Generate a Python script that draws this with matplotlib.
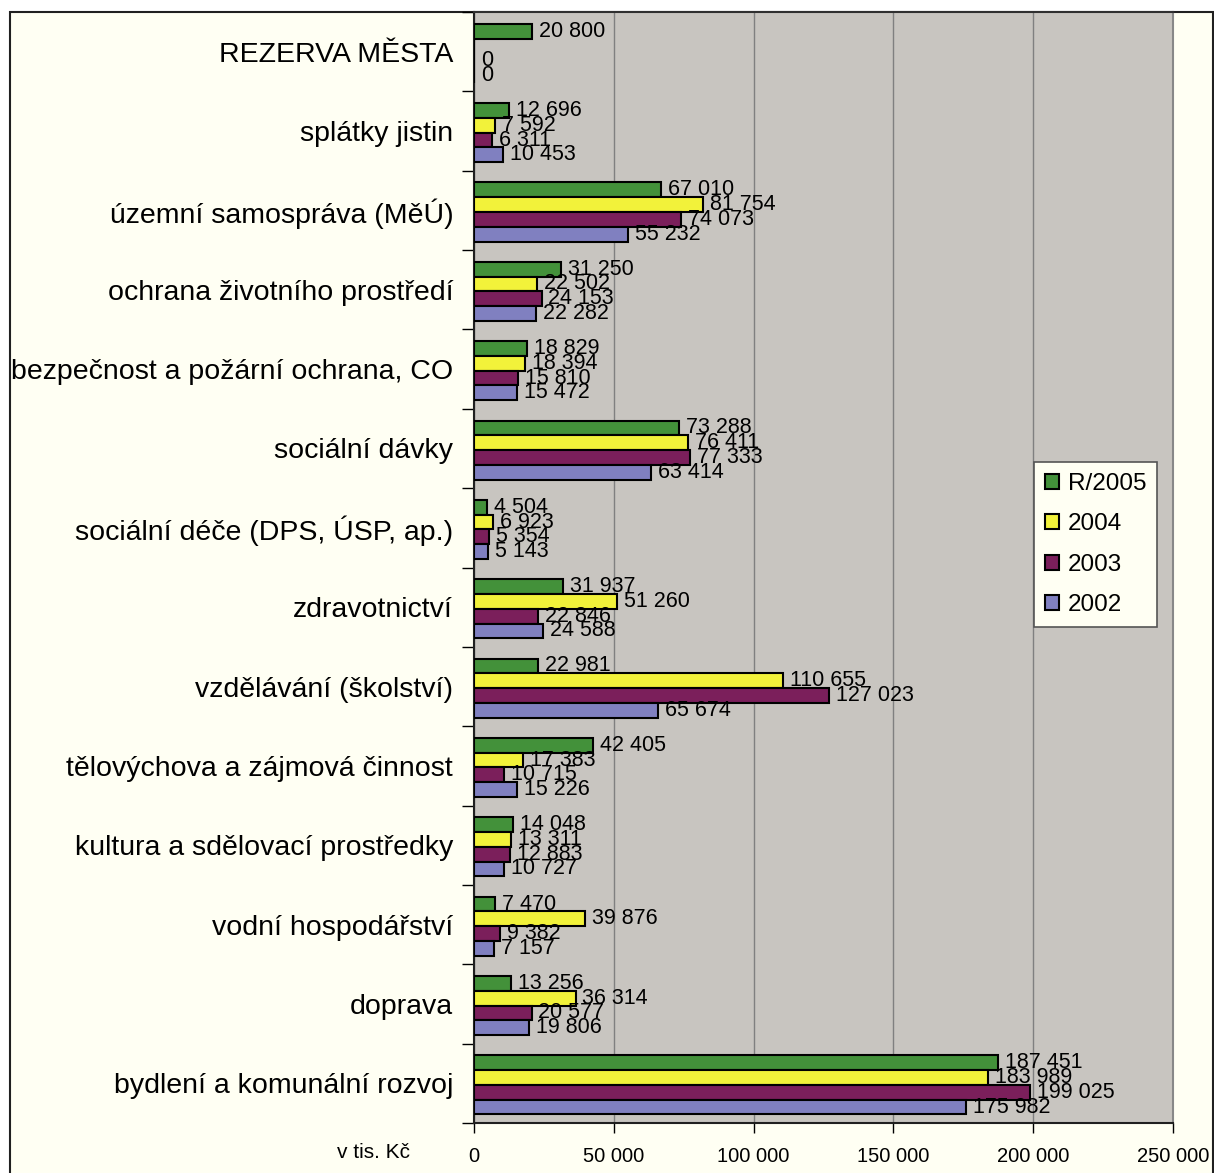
import numpy as np
import matplotlib
matplotlib.use("Agg")
import matplotlib.pyplot as plt
from matplotlib.patches import Rectangle
from matplotlib.ticker import FixedLocator, FuncFormatter

plt.rcParams['font.family'] = ['Liberation Sans', 'DejaVu Sans']

# categories from top to bottom
categories = [
    "REZERVA MĚSTA",
    "splátky jistin",
    "územní samospráva (MěÚ)",
    "ochrana životního prostředí",
    "bezpečnost a požární ochrana, CO",
    "sociální dávky",
    "sociální déče (DPS, ÚSP, ap.)",
    "zdravotnictví",
    "vzdělávání (školství)",
    "tělovýchova a zájmová činnost",
    "kultura a sdělovací prostředky",
    "vodní hospodářství",
    "doprava",
    "bydlení a komunální rozvoj",
]

series_names = ["R/2005", "2004", "2003", "2002"]
series_colors = ["#43913A", "#F2F23A", "#7B1F5B", "#8080C0"]

r2005 = [20800, 12696, 67010, 31250, 18829, 73288, 4504, 31937, 22981, 42405, 14048, 7470, 13256, 187451]
y2004 = [np.nan, 7592, 81754, 22502, 18394, 76411, 6923, 51260, 110655, 17383, 13311, 39876, 36314, 183989]
y2003 = [0, 6311, 74073, 24153, 15810, 77333, 5354, 22846, 127023, 10715, 12883, 9382, 20577, 199025]
y2002 = [0, 10453, 55232, 22282, 15472, 63414, 5143, 24588, 65674, 15226, 10727, 7157, 19806, 175982]
series_values = [r2005, y2004, y2003, y2002]

x_ticks = [0, 50000, 100000, 150000, 200000, 250000]


def fmt_cz(v):
    return f"{int(v):,}".replace(",", " ")


W, H = 1214, 1173
fig = plt.figure(figsize=(W / 100, H / 100), dpi=100)
fig.patch.set_facecolor("white")

# cream chart frame behind everything
frame = Rectangle((10 / W, -0.02), (1213 - 10) / W, 1 - 12 / H + 0.02,
                  transform=fig.transFigure, facecolor="#FFFFF3",
                  edgecolor="#202020", linewidth=1.5, zorder=-10)
fig.patches.append(frame)

ax = fig.add_axes([474 / W, 1 - 1123 / H, (1173 - 474) / W, (1123 - 12) / H])
ax.set_zorder(1)
ax.set_facecolor("#C8C5C0")

n = len(categories)
y = np.arange(n)
h = 0.186
for k, (name, vals, col) in enumerate(zip(series_names, series_values, series_colors)):
    pos = y + (k - 1.5) * h + 0.02
    vals = np.array(vals, dtype=float)
    ax.barh(pos, np.nan_to_num(vals), height=h, color=col, edgecolor="black",
            linewidth=1.5, label=name, zorder=3)
    for p, v in zip(pos, vals):
        if np.isnan(v):
            continue
        ax.annotate(fmt_cz(v), (v, p), xytext=(5, 0), textcoords="offset points",
                    ha="left", va="center", fontsize=15.5, zorder=4)

ax.set_xlim(0, 250000)
ax.set_ylim(n - 0.5, -0.5)

ax.xaxis.set_major_locator(FixedLocator(x_ticks))
ax.xaxis.set_major_formatter(FuncFormatter(lambda v, p: fmt_cz(v)))
ax.tick_params(axis="x", direction="out", length=7, width=1, pad=10, labelsize=14.5)
ax.grid(axis="x", color="#808080", linewidth=1, zorder=1)
ax.set_axisbelow(True)

ax.set_yticks(y)
ax.set_yticklabels(categories, fontsize=20.5)
ax.tick_params(axis="y", which="major", length=0, pad=15)
ax.yaxis.set_minor_locator(FixedLocator(np.arange(-0.5, n, 1.0)))
ax.tick_params(axis="y", which="minor", direction="out", length=9, width=1)

for side in ["left", "bottom"]:
    ax.spines[side].set_color("#202020")
    ax.spines[side].set_linewidth(1.5)
ax.spines["top"].set_color("#303030")
ax.spines["top"].set_linewidth(1.5)
ax.spines["right"].set_color("#888888")
ax.spines["right"].set_linewidth(1.5)

fig.text(410 / W, 1 - 1152 / H, "v tis. Kč", ha="right", va="center", fontsize=15)

leg = ax.legend(loc="upper left", bbox_to_anchor=(1034 / W, 1 - 462 / H),
                bbox_transform=fig.transFigure, borderaxespad=0, fontsize=17.5,
                fancybox=False, framealpha=1, facecolor="#FFFFF3",
                edgecolor="#555555", handlelength=0.58, handleheight=0.58,
                handletextpad=0.37, labelspacing=0.76, borderpad=0.45)
leg.get_frame().set_linewidth(1.2)

fig.savefig("out.png", dpi=100, facecolor=fig.get_facecolor())
